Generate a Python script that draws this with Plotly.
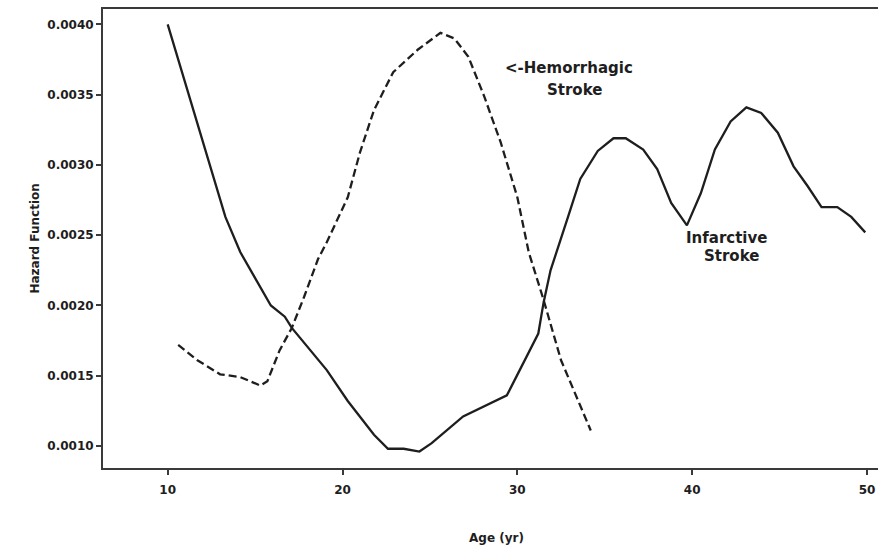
import plotly.graph_objects as go

# Infarctive stroke (solid)
inf_age = [10.0, 13.3, 14.15, 15.9, 16.7, 17.1, 19.1, 20.3, 21.8, 22.6, 23.5, 24.4, 25.1, 26.9,
           29.4, 31.2, 31.5, 31.9, 32.9, 33.6, 34.6, 35.5, 36.2, 37.2, 38.0, 38.8, 39.7,
           40.5, 41.3, 42.2, 43.1, 43.95, 44.9, 45.8, 46.6, 47.4, 48.3, 49.1, 49.9]
inf_haz = [0.00400, 0.00263, 0.00238, 0.00200, 0.00192, 0.00184, 0.00154, 0.00132, 0.00108,
           0.00098, 0.00098, 0.00096, 0.00102, 0.00121, 0.00136, 0.00180, 0.00202, 0.00225,
           0.00263, 0.00290, 0.00310, 0.00319, 0.00319, 0.00311, 0.00297, 0.00273, 0.00257,
           0.00280, 0.00311, 0.00331, 0.00341, 0.00337, 0.00323, 0.00299, 0.00285, 0.00270,
           0.00270, 0.00263, 0.00252]

# Hemorrhagic stroke (dashed)
hem_age = [10.6, 11.7, 13.0, 14.15, 15.3, 15.7, 16.4, 17.1, 17.8, 18.6, 19.1, 20.3, 21.0,
           21.8, 22.9, 24.3, 25.6, 26.4, 27.2, 28.1, 29.05, 30.0, 30.65, 31.5, 32.5, 34.2]
hem_haz = [0.00172, 0.00161, 0.00151, 0.00149, 0.00143, 0.00146, 0.00168, 0.00184, 0.00206,
           0.00233, 0.00245, 0.00277, 0.00309, 0.00339, 0.00366, 0.00382, 0.00394, 0.00390,
           0.00377, 0.00349, 0.00316, 0.00277, 0.00238, 0.00204, 0.00161, 0.00111]

x_ticks = [10, 20, 30, 40, 50]
y_ticks = [0.0010, 0.0015, 0.0020, 0.0025, 0.0030, 0.0035, 0.0040]

INK = "#1e1e1e"
AXC = "#3a3a3a"
FONT = "DejaVu Sans"

fig = go.Figure()
fig.add_trace(go.Scatter(x=inf_age, y=inf_haz, mode="lines",
                         line=dict(color=INK, width=2.3), showlegend=False))
fig.add_trace(go.Scatter(x=hem_age, y=hem_haz, mode="lines",
                         line=dict(color=INK, width=2.3, dash="8px,4px"), showlegend=False))

axis_common = dict(showgrid=False, zeroline=False, showline=True, linecolor=AXC,
                   linewidth=2, ticks="outside", ticklen=5, tickwidth=1.6, tickcolor=AXC,
                   tickfont=dict(family=FONT, size=12, color=INK, weight="bold"))

ann_font = dict(family=FONT, size=15, color=INK, weight="bold")

fig.update_layout(
    width=879, height=555,
    margin=dict(l=103, r=1, t=9, b=87),
    paper_bgcolor="white", plot_bgcolor="white",
    xaxis=dict(range=[6.3, 50.63], tickvals=x_ticks, mirror=True, ticklabelstandoff=5,
               **axis_common),
    yaxis=dict(range=[0.000843, 0.00411], tickvals=y_ticks, tickformat=".4f", **axis_common),
    annotations=[
        dict(text="&lt;-Hemorrhagic", x=32.95, y=0.00369, xref="x", yref="y", showarrow=False,
             font=ann_font),
        dict(text="Stroke", x=33.25, y=0.00353, xref="x", yref="y", showarrow=False,
             font=ann_font),
        dict(text="Infarctive", x=41.95, y=0.00248, xref="x", yref="y", showarrow=False,
             font=ann_font),
        dict(text="Stroke", x=42.25, y=0.00235, xref="x", yref="y", showarrow=False,
             font=ann_font),
        dict(text="Hazard Function", x=-0.1006, y=0.50, xref="paper", yref="paper",
             showarrow=False, textangle=-90,
             font=dict(family=FONT, size=12, color=INK, weight="bold")),
        dict(text="Age (yr)", x=0.508, y=-0.172, xref="paper", yref="paper", showarrow=False,
             font=dict(family=FONT, size=12, color=INK, weight="bold")),
    ],
)

fig.write_html("out.html")
